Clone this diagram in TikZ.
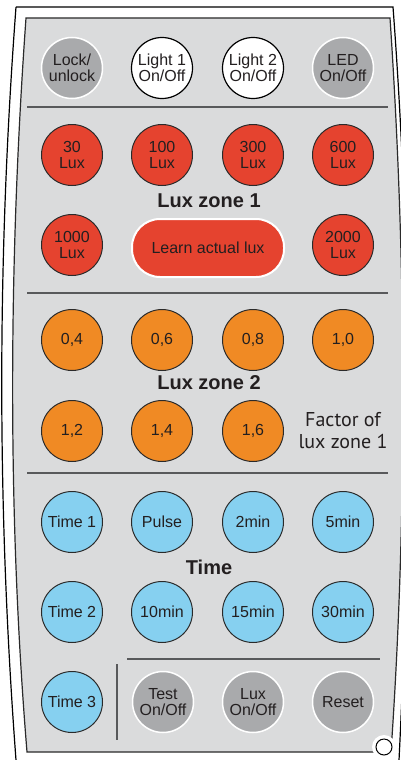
\documentclass[tikz,border=0pt]{standalone}
\usepackage{fontspec}
\setmainfont{Liberation Sans}
\newfontfamily\factorfont{PT Sans}
\definecolor{panel}{HTML}{DADBDC}
\definecolor{btngray}{HTML}{A9AAAC}
\definecolor{luxred}{HTML}{E5432F}
\definecolor{luxorange}{HTML}{F08A24}
\definecolor{timeblue}{HTML}{86D0F0}
\definecolor{txt}{HTML}{231F20}
\definecolor{sepcol}{HTML}{58595B}
\definecolor{edge}{HTML}{2A2A2A}
\begin{document}
\begin{tikzpicture}[x=1pt,y=-1pt,
  btn/.style={circle, minimum size=61pt, inner sep=0pt, align=center,
    font=\fontsize{16}{16.5}\selectfont, text=txt},
  graybtn/.style={btn, fill=btngray, draw=white, line width=1.5pt},
  whitebtn/.style={btn, fill=white, draw=black, line width=1.2pt},
  redbtn/.style={btn, fill=luxred, draw=edge, line width=1pt},
  orangebtn/.style={btn, fill=luxorange, draw=edge, line width=1pt},
  bluebtn/.style={btn, fill=timeblue, draw=edge, line width=1pt},
  heading/.style={font=\fontsize{20}{21}\selectfont\bfseries, text=txt},
  sepline/.style={draw=sepcol, line width=1.5pt},
  outline/.style={draw=black, line width=1.2pt}
]
\useasboundingbox (0,0) rectangle (401,760);
\clip (0,0) rectangle (401,760);
\fill[white] (0,0) rectangle (401,760);
% outer casing
\draw[outline] (16,7) -- (393,7) .. controls (412,260) and (412,510) .. (398,780);
\draw[outline] (16,7) .. controls (-3,260) and (-3,507) .. (16,760) -- (17,775);
% inner panel
\draw[fill=panel, draw=edge, line width=1.2pt] (26,18) -- (390,18)
  .. controls (407,270) and (407,520) .. (391,752) -- (27,752)
  .. controls (8,520) and (8,270) .. (26,18) -- cycle;
% separators
\coordinate (s1a) at (27,107); \coordinate (s1b) at (388,107);
\coordinate (s2a) at (27,293); \coordinate (s2b) at (388,293);
\coordinate (s3a) at (27,473); \coordinate (s3b) at (388,473);
\coordinate (s4a) at (127,659); \coordinate (s4b) at (380,659);
\coordinate (v1a) at (117,664); \coordinate (v1b) at (117,740);
\draw[sepline] (s1a) -- (s1b);
\draw[sepline] (s2a) -- (s2b);
\draw[sepline] (s3a) -- (s3b);
\draw[sepline] (s4a) -- (s4b);
\draw[sepline] (v1a) -- (v1b);
% top row
\node[graybtn] (lock) at (72,68) {Lock/\\unlock};
\node[whitebtn] (light1) at (162,68) {Light 1\\On/Off};
\node[whitebtn] (light2) at (253,68) {Light 2\\On/Off};
\node[graybtn] (led) at (343,68) {LED\\On/Off};
% lux zone 1
\node[redbtn] (l30) at (72,155) {30\\Lux};
\node[redbtn] (l100) at (162,155) {100\\Lux};
\node[redbtn] (l300) at (253,155) {300\\Lux};
\node[redbtn] (l600) at (343,155) {600\\Lux};
\node[heading] (lz1) at (209,201) {Lux zone 1};
\node[redbtn] (l1000) at (72,245) {1000\\Lux};
\node[fill=luxred, draw=white, line width=2pt, rounded corners=28pt,
  minimum width=152pt, minimum height=58pt, inner sep=0pt,
  font=\fontsize{16}{16.5}\selectfont, text=txt] (learn) at (208,248) {Learn actual lux};
\node[redbtn] (l2000) at (343,245) {2000\\Lux};
% lux zone 2
\node[orangebtn] (f04) at (72,340) {0,4};
\node[orangebtn] (f06) at (162,340) {0,6};
\node[orangebtn] (f08) at (253,340) {0,8};
\node[orangebtn] (f10) at (343,340) {1,0};
\node[heading] (lz2) at (209,383) {Lux zone 2};
\node[orangebtn] (f12) at (72,431) {1,2};
\node[orangebtn] (f14) at (162,431) {1,4};
\node[orangebtn] (f16) at (253,431) {1,6};
\node[align=center, text=txt, font=\factorfont\fontsize{20}{22}\selectfont] (factor) at (343,431) {Factor of\\lux zone 1};
% time
\node[bluebtn] (t1) at (72,522) {Time 1};
\node[bluebtn] (pulse) at (162,522) {Pulse};
\node[bluebtn] (t2m) at (253,522) {2min};
\node[bluebtn] (t5m) at (343,522) {5min};
\node[heading] (timeh) at (209,567) {Time};
\node[bluebtn] (t2) at (72,612) {Time 2};
\node[bluebtn] (t10m) at (162,612) {10min};
\node[bluebtn] (t15m) at (253,612) {15min};
\node[bluebtn] (t30m) at (343,612) {30min};
\node[bluebtn] (t3) at (72,702) {Time 3};
\node[graybtn] (test) at (163,702) {Test\\On/Off};
\node[graybtn] (luxonoff) at (253,702) {Lux\\On/Off};
\node[graybtn] (reset) at (343,702) {Reset};
% small hole
\node[circle, fill=white, minimum size=24pt, inner sep=0pt] (halo) at (384,747) {};
\node[circle, fill=white, draw=black, line width=1pt, minimum size=16pt, inner sep=0pt] (hole) at (384,747) {};
\end{tikzpicture}
\end{document}
